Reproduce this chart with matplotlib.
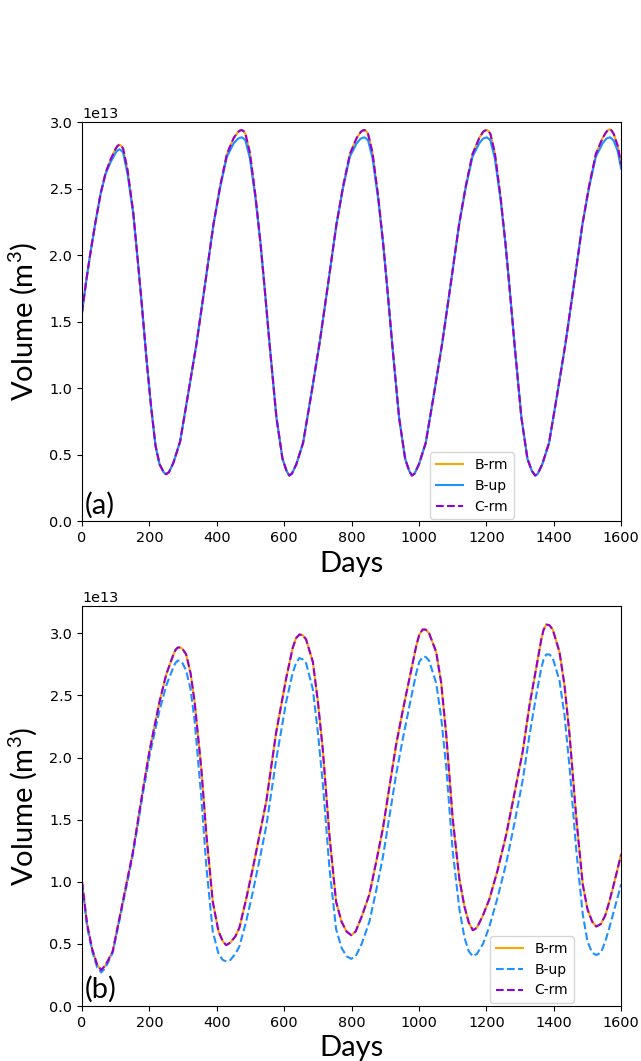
import matplotlib.pyplot as plt

# panel (a), volume in units of 1e13 m^3
days_a = [0, 12, 25, 40, 55, 70, 85, 100, 105, 111, 117, 122, 135, 152, 165, 177, 192, 205, 218, 230, 242, 249, 258,
          271, 291, 315, 340, 365, 390, 410, 430, 450, 463, 468, 474, 480, 485, 498, 515, 530, 542, 557,
          577, 595, 607, 615, 623, 636, 656, 680, 705, 730, 755, 775, 795, 815, 827, 832, 838, 844, 849,
          862, 879, 894, 906, 921, 941, 959, 971, 979, 987, 1000, 1020, 1044, 1069, 1094, 1119,
          1139, 1159, 1179, 1190, 1195, 1201, 1207, 1212, 1225, 1242, 1257, 1269, 1284, 1304, 1322, 1335,
          1345, 1353, 1366, 1386, 1410, 1435, 1460, 1485, 1505, 1525, 1545, 1556, 1561, 1567, 1572, 1578,
          1590, 1600]
a_b_rm = [1.57, 1.80, 2.02, 2.25, 2.46, 2.62, 2.72, 2.80, 2.82, 2.83, 2.82, 2.80, 2.64, 2.32, 1.97, 1.64, 1.20, 0.86, 0.57, 0.43, 0.37, 0.355, 0.37,
          0.44, 0.60, 0.96, 1.34, 1.78, 2.23, 2.52, 2.76, 2.88, 2.925, 2.935, 2.94, 2.93, 2.91, 2.77, 2.44, 2.08, 1.75, 1.32,
          0.78, 0.47, 0.38, 0.345, 0.36, 0.43, 0.59, 0.95, 1.34, 1.78, 2.23, 2.52, 2.76, 2.88, 2.925, 2.935, 2.94, 2.93, 2.91,
          2.77, 2.44, 2.08, 1.75, 1.32, 0.78, 0.47, 0.38, 0.345, 0.36, 0.43, 0.59, 0.95, 1.34, 1.78, 2.23,
          2.52, 2.76, 2.88, 2.925, 2.935, 2.94, 2.93, 2.91, 2.77, 2.44, 2.08, 1.75, 1.32, 0.78, 0.47, 0.38,
          0.345, 0.36, 0.43, 0.59, 0.95, 1.34, 1.78, 2.23, 2.52, 2.76, 2.88, 2.925, 2.94, 2.945, 2.935, 2.91,
          2.82, 2.68]
a_b_up = [1.57, 1.80, 2.02, 2.25, 2.46, 2.61, 2.70, 2.77, 2.785, 2.795, 2.785, 2.77, 2.61, 2.31, 1.97, 1.64, 1.20, 0.86, 0.57, 0.43, 0.37, 0.355, 0.37,
          0.44, 0.60, 0.96, 1.34, 1.78, 2.23, 2.51, 2.74, 2.84, 2.875, 2.88, 2.885, 2.875, 2.86, 2.73, 2.42, 2.08, 1.75, 1.32,
          0.78, 0.47, 0.38, 0.345, 0.36, 0.43, 0.59, 0.95, 1.34, 1.78, 2.23, 2.51, 2.74, 2.84, 2.875, 2.88, 2.885, 2.875, 2.86,
          2.73, 2.42, 2.08, 1.75, 1.32, 0.78, 0.47, 0.38, 0.345, 0.36, 0.43, 0.59, 0.95, 1.34, 1.78, 2.23,
          2.51, 2.74, 2.84, 2.875, 2.88, 2.885, 2.875, 2.86, 2.73, 2.42, 2.08, 1.75, 1.32, 0.78, 0.47, 0.38,
          0.345, 0.36, 0.43, 0.59, 0.95, 1.34, 1.78, 2.23, 2.51, 2.74, 2.84, 2.875, 2.88, 2.885, 2.875, 2.86,
          2.78, 2.65]
a_c_rm = list(a_b_rm)

# panel (b)
days_b = [0, 15, 30, 45, 57, 70, 91, 121, 151, 180, 200, 230, 250, 270, 277, 284, 291, 298, 309, 322, 334,
          354, 369, 388, 405, 418, 428, 440, 455, 467, 487, 507, 527, 547, 576, 606, 625, 635, 645, 655,
          665, 685, 700, 715, 734, 754, 770, 785, 799, 812, 830, 853, 873, 893, 912, 932, 952,
          972, 992, 1001, 1011, 1020, 1030, 1051, 1066, 1081, 1100, 1120, 1135, 1148, 1160, 1172, 1190, 1209,
          1234, 1259, 1284, 1308, 1328, 1348, 1363, 1370, 1378, 1387, 1397, 1417, 1432, 1447, 1467, 1486,
          1500, 1514, 1526, 1540, 1553, 1565, 1582, 1600]
b_b_rm = [1.00, 0.66, 0.46, 0.33, 0.29, 0.33, 0.44, 0.84, 1.24, 1.73, 2.05, 2.45, 2.67, 2.82, 2.865, 2.885, 2.885, 2.875, 2.83, 2.68, 2.45,
          1.91, 1.38, 0.84, 0.60, 0.52, 0.49, 0.51, 0.56, 0.63, 0.86, 1.11, 1.38, 1.65, 2.20, 2.64, 2.88, 2.96, 2.99, 2.985,
          2.95, 2.77, 2.45, 2.05, 1.38, 0.84, 0.68, 0.60, 0.57, 0.60, 0.72, 0.90, 1.16, 1.43, 1.76, 2.10, 2.38,
          2.64, 2.90, 2.99, 3.03, 3.03, 3.00, 2.85, 2.60, 2.18, 1.51, 1.02, 0.80, 0.67, 0.61, 0.63, 0.73, 0.86,
          1.10, 1.38, 1.72, 2.05, 2.42, 2.72, 2.95, 3.03, 3.07, 3.065, 3.03, 2.85, 2.58, 2.18, 1.51, 0.98,
          0.78, 0.68, 0.64, 0.66, 0.73, 0.84, 1.02, 1.22]
b_b_up = [0.98, 0.64, 0.44, 0.31, 0.27, 0.31, 0.43, 0.82, 1.22, 1.70, 2.01, 2.38, 2.58, 2.72, 2.76, 2.78, 2.78, 2.76, 2.70, 2.55, 2.30,
          1.68, 1.12, 0.60, 0.42, 0.37, 0.36, 0.37, 0.42, 0.48, 0.68, 0.92, 1.18, 1.45, 1.98, 2.45, 2.68, 2.76, 2.80, 2.79,
          2.76, 2.55, 2.20, 1.78, 1.12, 0.62, 0.47, 0.40, 0.38, 0.40, 0.50, 0.68, 0.93, 1.20, 1.52, 1.86, 2.15,
          2.42, 2.68, 2.77, 2.81, 2.81, 2.78, 2.60, 2.32, 1.92, 1.25, 0.78, 0.55, 0.44, 0.40, 0.42, 0.50, 0.64,
          0.88, 1.15, 1.48, 1.82, 2.18, 2.50, 2.72, 2.79, 2.83, 2.83, 2.80, 2.62, 2.34, 1.92, 1.25, 0.74,
          0.52, 0.43, 0.41, 0.43, 0.52, 0.63, 0.80, 0.98]
b_c_rm = list(b_b_rm)

scale = 1e13
label_font = 'Lato'
plt.rcParams['mathtext.fontset'] = 'custom'
plt.rcParams['mathtext.rm'] = label_font
plt.rcParams['xtick.labelsize'] = 10.4
plt.rcParams['ytick.labelsize'] = 10.4

fig = plt.figure(figsize=(6.41, 10.61), dpi=100)
ax_a = fig.add_axes([0.128, 0.5085, 0.841, 0.3765])
ax_b = fig.add_axes([0.128, 0.0518, 0.841, 0.3771])

# (a) all solid except C-rm
ax_a.plot(days_a, [v * scale for v in a_b_rm], color='orange', lw=1.5, label='B-rm')
ax_a.plot(days_a, [v * scale for v in a_b_up], color='dodgerblue', lw=1.5, label='B-up')
ax_a.plot(days_a, [v * scale for v in a_c_rm], color='darkviolet', lw=1.5, ls='--', label='C-rm')
ax_a.set_xlim(0, 1600)
ax_a.set_ylim(0, 3.0e13)
ax_a.legend(loc='lower left', bbox_to_anchor=(0.6457, 0.006), borderaxespad=0, fontsize=10)
ax_a.text(0.005, 0.02, '(a)', transform=ax_a.transAxes, fontsize=21, family=label_font)

# (b) B-up dashed here
ax_b.plot(days_b, [v * scale for v in b_b_rm], color='orange', lw=1.5, label='B-rm')
ax_b.plot(days_b, [v * scale for v in b_b_up], color='dodgerblue', lw=1.5, ls='--', label='B-up')
ax_b.plot(days_b, [v * scale for v in b_c_rm], color='darkviolet', lw=1.5, ls='--', label='C-rm')
ax_b.set_xlim(0, 1600)
ax_b.set_ylim(0, 3.22e13)
ax_b.legend(loc='lower left', bbox_to_anchor=(0.7570, 0.0075), borderaxespad=0, fontsize=10)
ax_b.text(0.005, 0.02, '(b)', transform=ax_b.transAxes, fontsize=21, family=label_font)

for ax in [ax_a, ax_b]:
    ax.set_xticks(range(0, 1601, 200))
    ax.set_ylabel('Volume (m$^3$)', fontsize=21, family=label_font, labelpad=7)
    ax.set_xlabel('Days', fontsize=21, family=label_font, labelpad=4)

fig.savefig('out.png', dpi=100)
